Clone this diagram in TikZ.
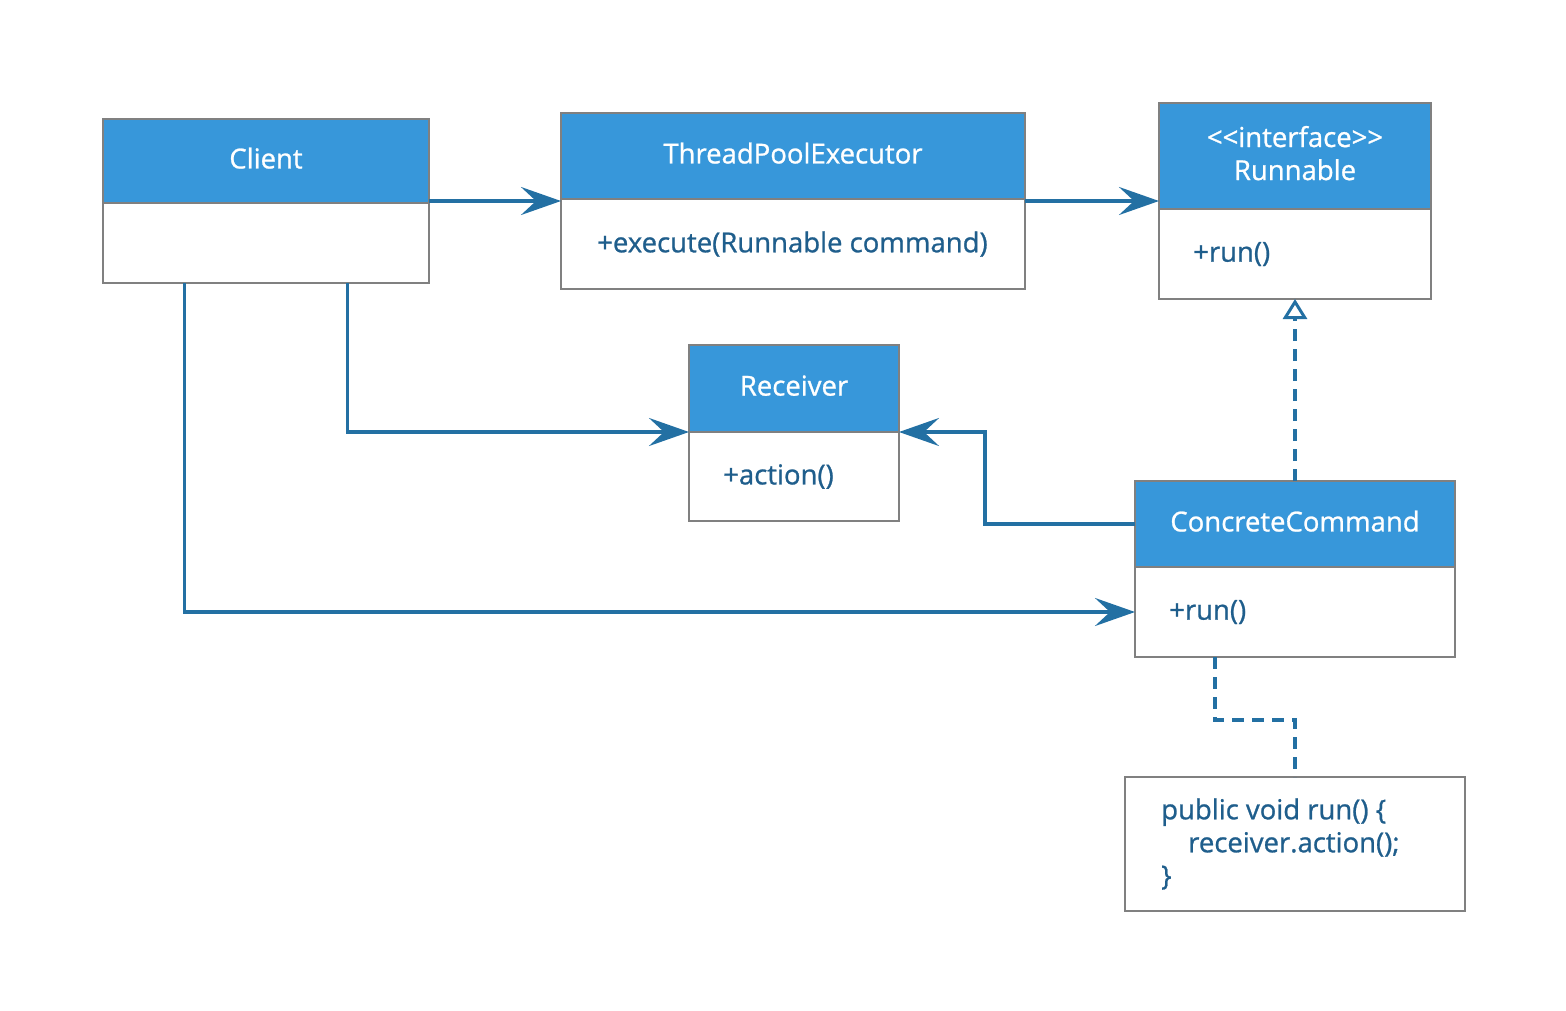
\documentclass[tikz,border=0pt]{standalone}
\usepackage{fontspec}
\setmainfont{Open Sans}[FakeBold=0.9]
\usetikzlibrary{arrows.meta,calc}
\definecolor{hdrblue}{HTML}{3797DA}
\definecolor{linkblue}{HTML}{2370A3}
\definecolor{txtblue}{HTML}{1F5E8C}
\definecolor{edgegray}{HTML}{808080}
\tikzset{
  hdr/.style={draw=edgegray, line width=2.5pt, fill=hdrblue, text=white,
    anchor=north west, inner sep=0pt, outer sep=0pt, align=center,
    text depth=6pt, font=\fontsize{27.5}{33}\selectfont},
  bodybox/.style={draw=edgegray, line width=2.5pt, fill=white,
    anchor=north west, inner sep=0pt, outer sep=0pt},
  member/.style={anchor=west, text=txtblue, inner sep=0pt,
    font=\fontsize{27.5}{31}\selectfont},
  link/.style={draw=linkblue, line width=3.5pt},
  assoc/.style={link, -{Stealth[length=40pt, width=28pt, inset=15pt]}},
  realize/.style={link, dash pattern=on 12pt off 8pt,
    -{Triangle[open, length=20pt, width=24pt, line width=3pt]}},
  notelink/.style={link, dash pattern=on 12pt off 8pt},
}
\begin{document}
\begin{tikzpicture}[x=1pt, y=-1pt]
\useasboundingbox (0,0) rectangle (1566,1010);

% Client
\node[bodybox, minimum width=326, minimum height=80] (clientB) at (103,203) {};
\node[hdr, minimum width=326, minimum height=84] (clientH) at (103,119) {Client};

% ThreadPoolExecutor
\node[bodybox, minimum width=464, minimum height=90] (tpeB) at (561,199) {};
\node[hdr, minimum width=464, minimum height=86] (tpeH) at (561,113) {ThreadPoolExecutor};
\node[member] (tpeM) at ($(tpeB.west)+(36,0)$) {+execute(Runnable command)};

% Runnable
\node[bodybox, minimum width=272, minimum height=90] (runB) at (1159,209) {};
\node[hdr, minimum width=272, minimum height=106] (runH) at (1159,103) {{<}{<}interface{>}{>}\\Runnable};
\node[member] (runM) at ($(runB.west)+(34,0)$) {+run()};

% Receiver
\node[bodybox, minimum width=210, minimum height=89] (recvB) at (689,432) {};
\node[hdr, minimum width=210, minimum height=87] (recvH) at (689,345) {Receiver};
\node[member] (recvM) at ($(recvB.west)+(34,0)$) {+action()};

% ConcreteCommand
\node[bodybox, minimum width=320, minimum height=90] (ccB) at (1135,567) {};
\node[hdr, minimum width=320, minimum height=86] (ccH) at (1135,481) {ConcreteCommand};
\node[member] (ccM) at ($(ccB.west)+(34,0)$) {+run()};

% Note with the body of run()
\node[bodybox, minimum width=340, minimum height=134] (note) at (1125,777) {};
\node[member, align=left, font=\fontsize{27.5}{33}\selectfont] (noteT) at ($(note.west)+(36,0)$)
  {public void run() \{\\\hspace*{27pt}receiver.action();\\\}};

% Connectors
\coordinate (cA) at ($(clientB.south west)!0.75!(clientB.south east)$);
\coordinate (cB) at ($(clientB.south west)!0.25!(clientB.south east)$);
\draw[assoc] (clientH.south east |- 0,201) -- (tpeH.south west |- 0,201);
\draw[assoc] (tpeH.south east |- 0,201) -- (runH.west |- 0,201);
\draw[assoc] (cA) |- (recvH.south west);
\draw[assoc] (cB) |- (ccB.west);
\draw[assoc] (ccH.west) -- ++(-150,0) |- (recvH.south east);
\draw[realize] (ccH.north) -- (runB.south);
\draw[notelink] ($(ccB.south west)+(80,0)$) -- ++(0,63) -| (note.north);
\end{tikzpicture}
\end{document}
